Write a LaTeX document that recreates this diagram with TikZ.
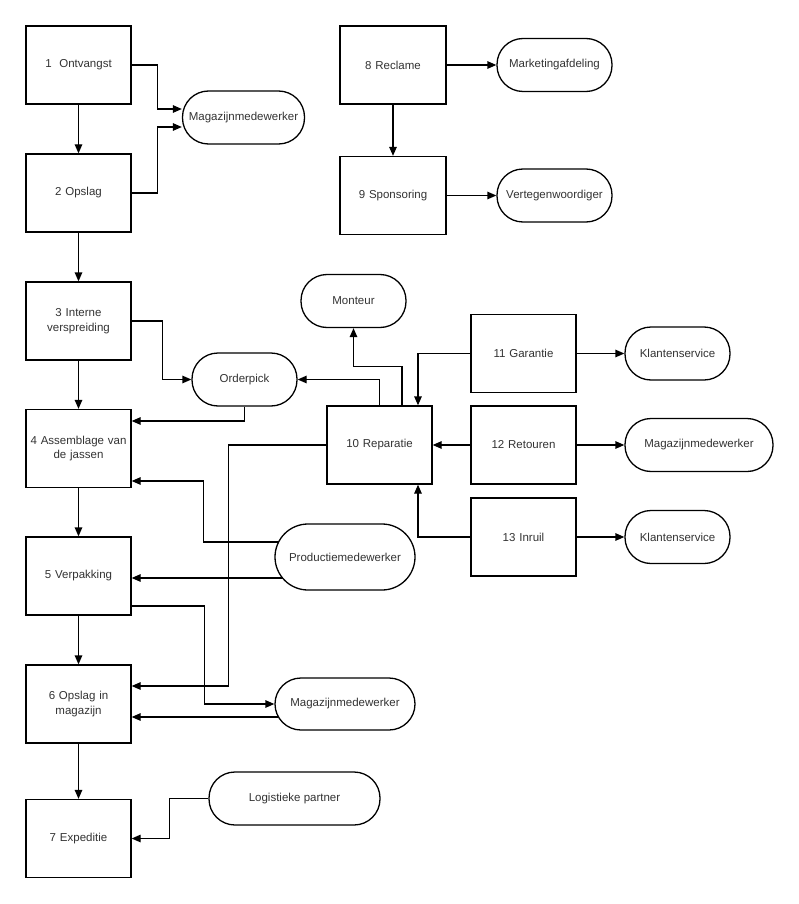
\documentclass[tikz,border=0pt]{standalone}
\usepackage{fontspec}
\setmainfont{Liberation Sans}
\usetikzlibrary{arrows.meta,positioning,backgrounds}
\definecolor{txt}{HTML}{333333}

\begin{document}
\begin{tikzpicture}[x=1pt, y=-1pt,
  proc/.style={draw, fill=white, line width=1.3pt,
               minimum width=105pt, minimum height=78pt, inner sep=0pt,
               text width=100pt, align=center, text=txt,
               font=\fontsize{11.5}{14.5}\selectfont},
  role/.style={draw, fill=white, line width=1.3pt, rounded corners=26pt,
               minimum width=#1, minimum height=53pt, inner sep=0pt,
               align=center, text=txt, font=\fontsize{11.5}{14.5}\selectfont},
  arrow/.style={-{Triangle[length=9pt,width=7.5pt]}, line width=1.3pt, #1}
]
\useasboundingbox (0,0) rectangle (799,904);

%% Main chain, left column
\node[proc] (ontv)  at (78.5, 65)    {1\ \ Ontvangst};
\node[proc] (opsl)  at (78.5, 193)   {2 Opslag};
\node[proc] (intv)  at (78.5, 321)   {3 Interne\\verspreiding};
\node[proc] (assm)  at (78.5, 448.5) {4 Assemblage van\\de jassen};
\node[proc] (verp)  at (78.5, 576)   {5 Verpakking};
\node[proc] (mgzn)  at (78.5, 704)   {6 Opslag in\\magazijn};
\node[proc] (expd)  at (78.5, 838.5) {7 Expeditie};

%% Marketing
\node[proc, minimum width=106pt] (recl) at (393, 65)    {8 Reclame};
\node[proc, minimum width=106pt] (spon) at (393, 195.5) {9 Sponsoring};
\node[role=115pt] (mkt)  at (554.5, 65)    {Marketingafdeling};
\node[role=115pt] (vert) at (554.5, 195.5) {Vertegenwoordiger};

%% After sales
\node[proc] (repa) at (379.5, 445)   {10 Reparatie};
\node[proc] (gara) at (523.5, 353.5) {11 Garantie};
\node[proc] (retr) at (523.5, 445)   {12 Retouren};
\node[proc] (inru) at (523.5, 537)   {13 Inruil};
\node[role=105pt] (ksA)  at (677.5, 353.5) {Klantenservice};
\node[role=148pt] (magC) at (699, 445)     {Magazijnmedewerker};
\node[role=105pt] (ksB)  at (677.5, 537)   {Klantenservice};

%% Roles
\node[role=122pt] (magA)  at (243.5, 117.5) {Magazijnmedewerker};
\node[role=105pt] (pick)  at (244.5, 379.5) {Orderpick};
\node[role=105pt] (mont)  at (353.5, 301)   {Monteur};
\node[role=140pt, minimum height=66pt, rounded corners=33pt]
                  (prod)  at (345, 557)     {Productiemedewerker};
\node[role=140pt, minimum height=52pt] (magB) at (345, 704) {Magazijnmedewerker};
\node[role=171pt] (logi)  at (294.5, 798.5) {Logistieke partner};

\begin{scope}[on background layer]
%% Chain arrows
\draw[arrow={}] (ontv.south) -- (opsl.north);
\draw[arrow={}] (opsl.south) -- (intv.north);
\draw[arrow={}] (intv.south) -- (assm.north);
\draw[arrow={}] (assm.south) -- (verp.north);
\draw[arrow={}] (verp.south) -- (mgzn.north);
\draw[arrow={}] (mgzn.south) -- (expd.north);

%% Warehouse worker at the top
\draw[arrow={}] (ontv.east) -- ++(26,0) |- ([yshift=8.5pt]magA.west);
\draw[arrow={}] (opsl.east) -- ++(26,0) |- ([yshift=-9.5pt]magA.west);

%% Marketing arrows
\draw[arrow={}] (recl.east)  -- (mkt.west);
\draw[arrow={}] (recl.south) -- (spon.north);
\draw[arrow={}] (spon.east)  -- (vert.west);

%% Orderpick
\draw[arrow={}] (intv.east) -- ++(31,0) |- (pick.west);
\draw[arrow={}] (pick.south) |- ([yshift=27.5pt]assm.east);

%% Repair
\draw[arrow={}] (repa.north) |- (pick.east);
\draw[arrow={}] ([xshift=22.5pt]repa.north) -- ++(0,-39) -| (mont.south);
\draw[arrow={}] (repa.west) -- ++(-98,0) |- ([yshift=18pt]mgzn.east);
\draw[arrow={}] (gara.west) -| ([xshift=38.5pt]repa.north);
\draw[arrow={}] (retr.west) -- (repa.east);
\draw[arrow={}] (inru.west) -| ([xshift=38.5pt]repa.south);
\draw[arrow={}] (gara.east) -- (ksA.west);
\draw[arrow={}] (retr.east) -- (magC.west);
\draw[arrow={}] (inru.east) -- (ksB.west);

%% Production and warehouse workers
\draw[arrow={}] ([xshift=6pt,yshift=15pt]prod.west) -- ++(-77,0)
  |- ([yshift=-32.5pt]assm.east);
\draw[arrow={}] ([xshift=10pt,yshift=-21pt]prod.west)
  -- ([yshift=-21pt]prod.west -| verp.east);
\draw[arrow={}] ([yshift=-30pt]verp.east) -- ++(73,0) |- (magB.west);
\draw[arrow={}] ([xshift=6pt,yshift=-13pt]magB.west)
  -- ([yshift=-13pt]magB.west -| mgzn.east);

%% Logistics partner
\draw[arrow={}] (logi.west) -- ++(-39,0) |- (expd.east);
\end{scope}

\end{tikzpicture}
\end{document}
